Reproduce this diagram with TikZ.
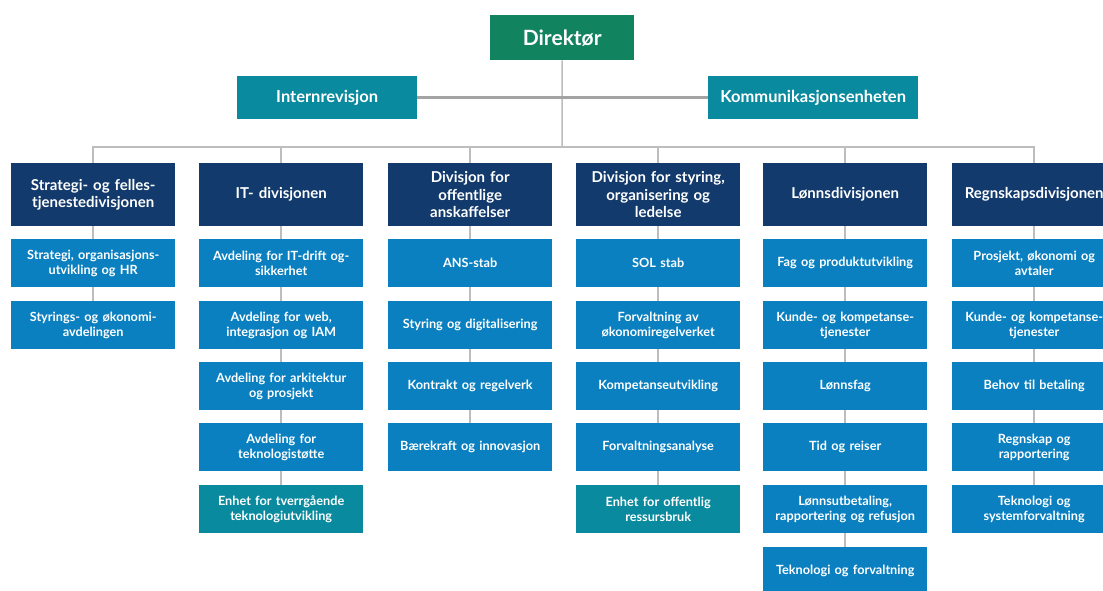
\documentclass[tikz,border=0pt]{standalone}
\usepackage{fontspec}
\setmainfont{Lato}
\definecolor{dirgreen}{HTML}{11845F}
\definecolor{staffteal}{HTML}{0A8A9E}
\definecolor{divnavy}{HTML}{123A6C}
\definecolor{subblue}{HTML}{0A80C0}
\definecolor{linegray}{HTML}{BDBDBD}
\definecolor{staffline}{HTML}{A3A3A3}
\begin{document}
\begin{tikzpicture}[x=1pt,y=-1pt,
  box/.style={anchor=north west,inner sep=0pt,align=center,text=white,font=\bfseries},
  dirbox/.style={box,fill=dirgreen,minimum width=144,minimum height=45,font=\bfseries\fontsize{21}{24}\selectfont},
  staffbox/.style={box,fill=staffteal,minimum height=43,font=\bfseries\fontsize{16.5}{19}\selectfont},
  divbox/.style={box,fill=divnavy,minimum width=164,minimum height=63,text width=160,font=\bfseries\fontsize{15}{17.5}\selectfont},
  subbox/.style={box,fill=subblue,minimum width=164,minimum height=48,text width=162,font=\bfseries\fontsize{12.7}{14.5}\selectfont},
  unitbox/.style={subbox,fill=staffteal},
  conn/.style={draw=linegray,line width=1.5pt},
  staffconn/.style={draw=staffline,line width=2.5pt}]
\useasboundingbox (0,0) rectangle (1103,590);
\clip (0,0) rectangle (1103,590);
\fill[white] (0,0) rectangle (1103,590);

% top level
\node[dirbox] (dir) at (490,15) {Direktør};
\node[staffbox,minimum width=180] (intern) at (237,76) {Internrevisjon};
\node[staffbox,minimum width=210] (komm) at (708,76) {Kommunikasjonsenheten};
\coordinate (bus) at (562,147);

% divisions
\node[divbox] (d1) at (11,163) {Strategi- og felles-\\tjenestedivisjonen};
\node[divbox] (d2) at (199,163) {IT- divisjonen};
\node[divbox] (d3) at (388,163) {Divisjon for\\offentlige\\anskaffelser};
\node[divbox] (d4) at (576,163) {Divisjon for styring,\\organisering og\\ledelse};
\node[divbox] (d5) at (763,163) {Lønnsdivisjonen};
\node[divbox] (d6) at (952,163) {Regnskapsdivisjonen};

% column 1
\node[subbox] (a1) at (11,239) {Strategi, organisasjons-\\utvikling og HR};
\node[subbox] (a2) at (11,301) {Styrings- og økonomi-\\avdelingen};
% column 2
\node[subbox] (b1) at (199,239) {Avdeling for IT-drift og-\\sikkerhet};
\node[subbox] (b2) at (199,301) {Avdeling for web,\\integrasjon og IAM};
\node[subbox] (b3) at (199,362) {Avdeling for arkitektur\\og prosjekt};
\node[subbox] (b4) at (199,423) {Avdeling for\\teknologistøtte};
\node[unitbox] (b5) at (199,485) {Enhet for tverrgående\\teknologiutvikling};
% column 3
\node[subbox] (c1) at (388,239) {ANS-stab};
\node[subbox] (c2) at (388,301) {Styring og digitalisering};
\node[subbox] (c3) at (388,362) {Kontrakt og regelverk};
\node[subbox] (c4) at (388,423) {Bærekraft og innovasjon};
% column 4
\node[subbox] (e1) at (576,239) {SOL stab};
\node[subbox] (e2) at (576,301) {Forvaltning av\\økonomiregelverket};
\node[subbox] (e3) at (576,362) {Kompetanseutvikling};
\node[subbox] (e4) at (576,423) {Forvaltningsanalyse};
\node[unitbox] (e5) at (576,485) {Enhet for offentlig\\ressursbruk};
% column 5
\node[subbox] (f1) at (763,239) {Fag og produktutvikling};
\node[subbox] (f2) at (763,301) {Kunde- og kompetanse-\\tjenester};
\node[subbox] (f3) at (763,362) {Lønnsfag};
\node[subbox] (f4) at (763,423) {Tid og reiser};
\node[subbox] (f5) at (763,485) {Lønnsutbetaling,\\rapportering og refusjon};
\node[subbox] (f6) at (763,547) {Teknologi og forvaltning};
% column 6
\node[subbox] (g1) at (952,239) {Prosjekt, økonomi og\\avtaler};
\node[subbox] (g2) at (952,301) {Kunde- og kompetanse-\\tjenester};
\node[subbox] (g3) at (952,362) {Behov til betaling};
\node[subbox] (g4) at (952,423) {Regnskap og\\rapportering};
\node[subbox] (g5) at (952,485) {Teknologi og\\systemforvaltning};

% connectors
\draw[conn] (dir.south) -- (bus);
\draw[staffconn] (intern.east) -- (komm.west);
\foreach \d in {d1,d2,d3,d4,d5,d6} {\draw[conn] (bus) -| (\d.north);}
\draw[conn] (d1) -- (a1) -- (a2);
\draw[conn] (d2) -- (b1) -- (b2) -- (b3) -- (b4) -- (b5);
\draw[conn] (d3) -- (c1) -- (c2) -- (c3) -- (c4);
\draw[conn] (d4) -- (e1) -- (e2) -- (e3) -- (e4) -- (e5);
\draw[conn] (d5) -- (f1) -- (f2) -- (f3) -- (f4) -- (f5) -- (f6);
\draw[conn] (d6) -- (g1) -- (g2) -- (g3) -- (g4) -- (g5);
\end{tikzpicture}
\end{document}
